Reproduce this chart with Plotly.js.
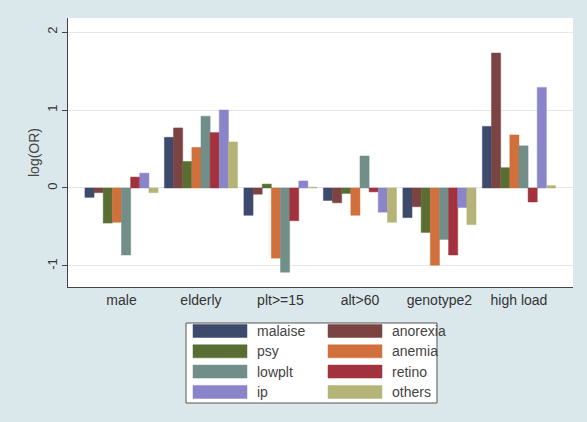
<!DOCTYPE html>
<html>
<head>
<meta charset="utf-8">
<script src="https://cdn.plot.ly/plotly-3.0.1.min.js"></script>
<style>html,body{margin:0;padding:0;background:#dbe8eb;}#chart{width:587px;height:422px;}</style>
</head>
<body>
<div id="chart"></div>
<script>
// Categories (groups on the x axis)
const categories = ["male", "elderly", "plt>=15", "alt>60", "genotype2", "high load"];
// Series names
const seriesNames = ["malaise", "anorexia", "psy", "anemia", "lowplt", "retino", "ip", "others"];
// Series values: log(OR) per category
const malaise  = [-0.12, 0.65, -0.35, -0.16, -0.38, 0.79];
const anorexia = [-0.06, 0.77, -0.08, -0.19, -0.24, 1.73];
const psy      = [-0.45, 0.34, 0.05, -0.07, -0.57, 0.26];
const anemia   = [-0.44, 0.52, -0.90, -0.35, -0.99, 0.68];
const lowplt   = [-0.86, 0.92, -1.08, 0.41, -0.66, 0.54];
const retino   = [0.14, 0.71, -0.42, -0.05, -0.86, -0.18];
const ip       = [0.19, 1.00, 0.09, -0.31, -0.25, 1.29];
const others   = [-0.06, 0.59, 0.01, -0.44, -0.47, 0.03];
const yTicks = [-1, 0, 1, 2];

const seriesValues = [malaise, anorexia, psy, anemia, lowplt, retino, ip, others];
const colors = ["#3e4a6b", "#7b4442", "#5a6e34", "#d0703c", "#718f88", "#a2323e", "#8a84c9", "#b4b479"];

const traces = seriesNames.map((n, i) => ({
  type: "bar", name: n, x: categories, y: seriesValues[i],
  marker: {color: colors[i], line: {color: colors[i], width: 0.5}},
  showlegend: false, hoverinfo: "skip"
}));

// plot area in pixels
const L = 68, R = 14, T = 18, B = 135, W = 587, H = 422;
const pw = W - L - R, ph = H - T - B;
const px2x = p => (p - L) / pw;
const py2y = p => (H - B - p) / ph;

// custom legend built from series names/colors
const shapes = [{type: "rect", xref: "paper", yref: "paper",
  x0: px2x(186), x1: px2x(437), y0: py2y(403), y1: py2y(323),
  fillcolor: "#ffffff", line: {color: "#555555", width: 1}, layer: "above"}];
const annotations = [];
seriesNames.forEach((n, i) => {
  const col = i % 2, row = Math.floor(i / 2);
  const sx = col === 0 ? 193 : 328;
  const cy = 331 + row * 20.3;
  shapes.push({type: "rect", xref: "paper", yref: "paper",
    x0: px2x(sx), x1: px2x(sx + 54), y0: py2y(cy + 6.5), y1: py2y(cy - 6.5),
    fillcolor: colors[i], line: {color: colors[i], width: 0.5}, layer: "above"});
  annotations.push({xref: "paper", yref: "paper", x: px2x(sx + 62), y: py2y(cy),
    xanchor: "left", yanchor: "middle", text: n, showarrow: false,
    font: {family: "Liberation Sans, Arial, sans-serif", size: 14, color: "#444444"}});
});

const layout = {
  width: W, height: H,
  margin: {l: L, r: R, t: T, b: B, pad: 0},
  paper_bgcolor: "#dbe8eb", plot_bgcolor: "#ffffff",
  barmode: "group", bargap: 0.08, bargroupgap: 0,
  font: {family: "Liberation Sans, Arial, sans-serif", size: 14, color: "#333333"},
  xaxis: {type: "category", range: [-0.673, 5.68], showgrid: false, zeroline: false,
    showline: true, linecolor: "#444444", linewidth: 1, ticks: "", ticklen: 0,
    tickfont: {size: 14, color: "#333333"}, fixedrange: true},
  yaxis: {range: [-1.27, 2.18], tickvals: yTicks, ticktext: yTicks.map(String),
    tickangle: -90, ticks: "outside", ticklen: 5, tickcolor: "#444444",
    showline: true, linecolor: "#444444", linewidth: 1,
    showgrid: true, gridcolor: "#e6e9ea", gridwidth: 1, zeroline: true, zerolinecolor: "#e3e6e7", zerolinewidth: 1,
    tickfont: {size: 13, color: "#333333"},
    title: {text: "log(OR)", font: {size: 14, color: "#444444"}, standoff: 1}},
  shapes: shapes, annotations: annotations, showlegend: false
};

Plotly.newPlot("chart", traces, layout, {displayModeBar: false, staticPlot: true});
</script>
</body>
</html>
